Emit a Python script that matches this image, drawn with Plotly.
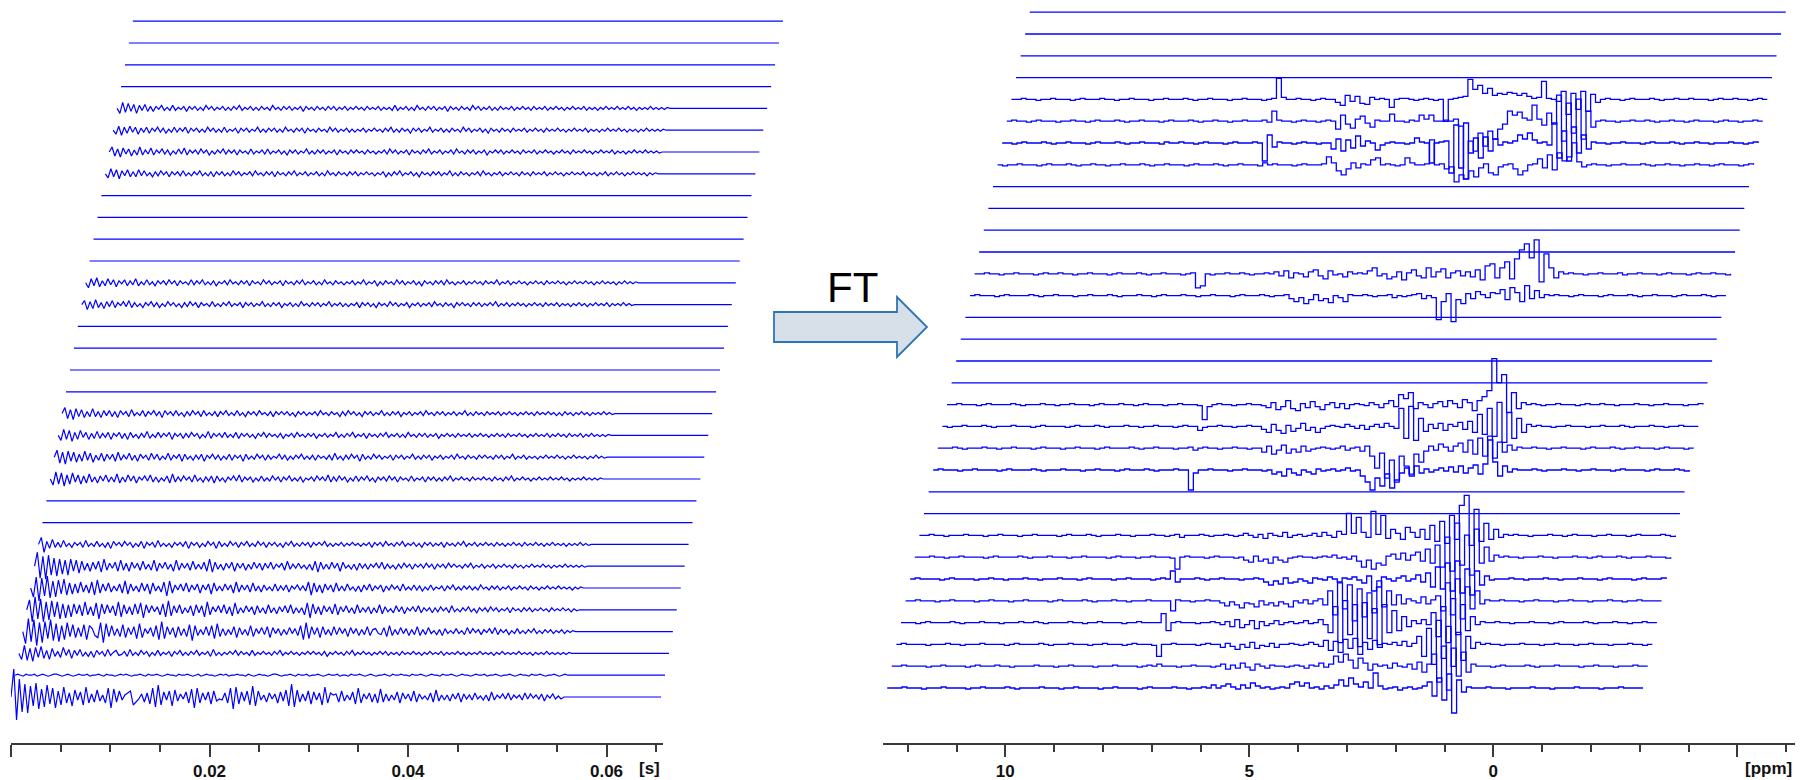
import numpy as np
import plotly.graph_objects as go

# ---------------- data ----------------
N_TRACES = 32
FID_END = 0.0557      # s, end of recorded signal
ACQ_END = 0.0655      # s, end of each time-domain row
PPM_START, PPM_END = 12.42, -3.07

FID_00 = [0,28,-23,18,-15,13,-16,11,-9,14,-12,8,-10,12,-7,9,-11,6,-8,10,
          -6,4,-9,7,-3,5,-8,10,-6,3,-5,7,-4,2,-6,9,-11,8,-5,6,
          -3,2,4,6,-8,-5,-2,3,-5,4,-7,9,-10,12,-8,5,-3,6,-9,7,
          -4,3,-2,5,-6,8,-11,9,-6,4,-3,5,-7,6,-4,-2,-3,4,-6,9,
          -12,10,-7,5,-4,6,-8,11,-9,6,-3,2,-5,4,-2,3,-6,5,-4,7,
          -9,13,-10,7,-5,3,-4,6,-7,5,-3,4,-8,10,-6,4,2,3,-5,6,
          -4,2,-3,5,-7,9,-6,3,-2,4,-5,3,-6,8,-5,3,-4,2,-3,5,
          -6,4,-2,3,-4,6,-5,3,-2,1,-3,4,-5,7,-4,2,-3,2,-4,3,
          -2,4,-5,3,-2,2,-3,4,-2,1,-3,2,-4,5,-3,2,-1,3,-2,4,
          -3,2,-1,2,-3,4,-2,3,-1,2,-2,3,-4,2,-1,3,-2,1,-2,0]
FID_01 = [0,1,0,-1,1,0,0,1,-1,0,1,0,-1,0,1,1,0,-1,0,1,
          0,-1,0,1,0,0,1,-1,0,0,1,0,-1,1,0,0,-1,0,1,0,
          1,0,-1,0,0,1,0,-1,1,0,0,1,0,-1,0,1,0,0,-1,1,
          0,0,1,0,-1,0,1,-1,0,1,0,0,-1,0,1,0,1,-1,0,0,
          1,0,0,-1,1,0,-1,0,1,0,0,-1,0,1,1,0,-1,0,0,1,
          0,-1,1,0,0,1,-1,0,0,1,0,-1,0,1,0,0,1,-1,0,0,
          -1,1,0,0,1,0,-1,0,1,0,-1,0,0,1,0,-1,1,0,0,1,
          0,0,-1,1,0,0,1,0,-1,0,1,0,0,-1,1,0,0,1,0,-1,
          0,1,0,0,-1,0,1,0,0,1,-1,0,0,1,0,-1,0,0,1,0,
          -1,0,1,0,0,-1,1,0,0,1,0,-1,0,0,1,0,-1,0,1,0]
FID_02 = [0,-6,8,-7,5,-8,6,-4,7,-5,3,-6,5,-3,2,-4,6,-2,4,-5,
          3,-2,4,-3,1,-3,2,-4,3,-1,2,-3,4,-2,1,3,-2,-1,2,-3,
          4,-2,1,-2,3,-1,2,-3,1,-2,3,-2,1,-1,2,-3,2,-1,3,-2,
          1,-2,2,-1,3,-2,1,-1,2,-3,4,-2,1,-2,1,-1,2,-1,3,-2,
          2,-1,1,-2,3,-2,1,-1,2,-1,1,-2,2,-1,3,-2,1,-1,2,-1,
          1,-2,1,-1,2,-1,2,-1,1,-2,2,-3,1,-1,2,-1,1,-2,2,-1,
          3,-2,1,-1,2,-1,1,-2,1,-1,2,-1,2,-2,1,-1,1,-2,2,-1,
          1,-1,2,-1,1,-2,1,-1,2,-1,1,-1,2,-2,1,-1,1,-1,2,-1,
          1,-2,1,-1,1,-1,2,-1,1,-1,1,-2,1,-1,2,-1,1,-1,1,-1,
          2,-1,1,-1,1,-2,1,-1,1,-1,2,-1,1,-1,1,-1,1,-1,1,0]
FID_03 = [0,-12,13,-10,12,-14,9,-11,10,-7,12,-9,8,-10,6,-8,9,-5,7,-6,
          4,-5,7,-8,6,3,-4,-6,9,-11,8,-5,6,-4,3,-5,7,-6,4,-3,
          5,-7,8,-6,3,-2,4,-5,6,-8,10,-7,5,-3,4,-6,5,-4,3,-5,
          7,-9,6,-4,2,-3,5,-4,6,-7,8,-5,3,-4,2,-3,5,-6,4,-3,
          2,-4,6,-5,3,-2,4,-3,5,-6,4,-2,3,-4,2,-3,4,-2,3,-4,
          6,-8,9,-7,5,-3,4,-6,5,-3,2,-4,5,-3,4,-2,3,-5,4,-2,
          3,-4,2,-3,5,-4,2,3,-2,-3,4,-5,6,-4,2,-3,4,-2,3,-4,
          2,-3,5,-4,2,-3,4,-2,1,-3,2,-4,3,-2,1,-2,3,-2,1,-3,
          4,-2,3,-1,2,-3,2,-1,3,-2,4,-3,2,-1,2,-3,1,-2,3,-2,
          1,-2,2,-1,3,-2,1,-2,2,-1,2,-2,1,-1,2,-2,1,-1,1,0]
FID_04 = [0,10,-12,13,-9,11,-12,8,-10,9,-7,8,-9,6,-8,5,-7,6,-4,5,
          -6,8,-5,3,-6,7,-9,6,-4,5,-3,4,-6,8,-7,5,-4,3,-5,6,
          -4,7,-8,5,-3,4,-2,3,-5,6,-7,9,-6,4,-3,5,-4,2,-3,4,
          -6,5,-3,4,-7,8,-5,3,-2,4,-3,5,-4,3,-6,7,-4,2,-3,4,
          -2,3,-5,4,-3,2,-4,5,-3,2,-4,3,-2,4,-3,5,-4,2,-3,2,
          -5,7,-8,6,-4,3,-5,4,-2,3,-4,6,-5,3,-2,4,-3,2,-4,5,
          -3,2,-2,3,-4,2,-3,5,-4,3,-2,1,-3,4,-2,3,-4,2,-1,3,
          -2,4,-3,2,-1,2,-3,2,-2,3,-1,2,-3,4,-2,1,-2,2,-1,3,
          -2,1,-3,2,-1,2,-2,3,-1,2,-2,1,-1,2,-3,2,-1,1,-2,2,
          -1,2,-2,1,-1,2,-1,1,-2,2,-1,1,-1,2,-1,1,-2,1,-1,0]
FID_05 = [0,-9,11,-13,10,-8,12,-10,7,-9,8,-6,9,-7,5,-6,4,-5,6,-4,
          3,-5,6,-7,8,-5,4,-3,5,-4,2,-3,4,-5,7,-6,4,-3,2,-4,
          5,-3,4,-6,5,-3,2,-4,6,-8,7,-5,3,-2,4,-3,5,-4,3,-2,
          4,-5,3,-2,4,-6,5,-3,2,-3,4,-2,3,-5,6,-4,3,-2,3,-4,
          5,-3,2,-4,3,-2,1,-3,4,-3,2,-2,3,-4,2,-1,3,-2,2,-3,
          6,-7,5,-4,3,-5,4,-2,3,-4,5,-3,2,-3,4,-2,1,-3,2,-4,
          3,-2,4,-3,2,-1,3,-4,2,-2,3,-1,2,-3,4,-2,1,-2,3,-2,
          2,-3,1,-2,3,-2,1,-1,2,-3,2,-1,3,-2,1,-2,2,-1,2,-2,
          1,-2,3,-1,1,-2,2,-1,2,-2,1,-1,2,-2,1,-1,2,-1,1,-2,
          2,-1,1,-2,1,-1,2,-1,1,-1,2,-1,1,-1,1,-2,1,-1,1,0]
FID_06 = [0,14,-12,10,-13,11,-9,8,-10,7,-8,6,-9,7,-5,6,-7,5,-4,3,
          -5,4,-3,5,-6,7,-4,3,-2,4,-5,6,-4,3,-5,4,-2,3,-4,5,
          -3,2,-4,6,-5,3,-2,4,-3,2,-5,6,-4,3,-2,3,-4,5,-3,2,
          -3,4,-5,7,-6,4,-3,2,-4,3,-2,4,-5,3,-2,3,-4,2,-3,4,
          -2,3,-4,3,-2,4,-3,2,-1,3,-4,5,-3,2,-2,3,-2,1,-3,2,
          -4,5,-6,4,-3,2,-3,4,-2,3,-5,4,-2,1,-3,2,-4,3,-2,2,
          -3,2,-1,3,-2,4,-3,2,-2,1,-3,2,-2,3,-1,2,-3,2,-1,2,
          -2,3,-1,2,-3,2,-1,2,-2,3,-1,2,-1,1,-2,2,-1,3,-2,1,
          -1,2,-2,1,-1,2,-2,1,-1,2,-1,1,-2,2,-1,1,-2,1,-1,2,
          -1,1,-1,2,-1,1,-2,1,-1,1,-1,2,-1,1,-1,1,-1,1,-1,0]
FID_07 = [0,7,-8,3,-4,5,-3,2,-3,4,-2,1,-3,2,-1,2,-3,4,-2,1,
          -2,3,-2,1,-3,2,-4,3,-1,2,-2,3,-1,2,-3,1,-2,3,-4,2,
          -1,2,-3,4,-2,1,-2,1,-3,2,-1,2,-2,3,-4,2,-1,2,-3,1,
          -2,3,-1,2,-4,3,-2,1,-2,3,-1,2,-3,2,-1,3,-2,1,-2,3,
          -1,2,-3,2,-1,2,-2,1,-3,2,-1,3,-2,1,-2,2,-1,2,-3,2,
          -1,2,-1,3,-2,1,-2,1,-1,2,-2,1,-1,2,-1,1,-2,1,-1,2,
          -3,2,-1,2,-2,3,-1,1,-2,2,-1,3,-2,1,-1,2,-2,1,-3,2,
          -1,2,-2,1,-1,2,-3,2,-1,1,-2,2,-1,3,-2,1,-1,2,-2,1,
          -1,2,-1,1,-2,2,-1,1,-2,1,-1,2,-1,1,-2,2,-1,1,-1,2,
          -1,1,-2,1,-1,2,-1,1,-1,1,-2,1,-1,1,-1,2,-1,1,-1,0]
FID_10 = [0,-6,7,-5,6,-7,4,-5,6,-3,4,-5,3,-4,5,-3,2,-4,3,-2,
          4,-3,2,-3,5,-4,2,-3,4,-2,3,-4,2,-1,3,-2,4,-3,2,-3,
          1,-2,3,-4,5,-3,2,-2,3,-1,2,-3,4,-2,1,-3,2,-2,3,-4,
          3,-2,1,-3,2,-1,3,-2,4,-3,2,-1,2,-3,1,-2,3,-2,1,-2,
          3,-1,2,-3,2,-1,3,-2,1,-2,2,-3,1,-1,2,-2,3,-1,2,-2,
          4,-3,2,-2,3,-1,2,-3,1,-2,3,-2,2,-1,3,-2,1,-3,2,-1,
          2,-2,3,-1,2,-3,2,-1,1,-2,3,-2,1,-1,2,-3,2,-1,2,-2,
          1,-2,2,-1,3,-2,1,-1,2,-1,1,-2,2,-1,1,-1,2,-1,1,-2,
          2,-1,1,-2,2,-1,3,-2,1,-1,2,-1,1,-2,1,-1,2,-1,1,-1,
          2,-1,1,-1,2,-1,1,-2,1,-1,1,-1,2,-1,1,-1,1,-1,1,0]
FID_11 = [0,7,-6,5,-7,6,-4,5,-5,3,-4,6,-3,4,-5,2,-3,4,-4,3,
          -2,3,-4,5,-3,2,-2,4,-3,2,-4,3,-1,2,-3,4,-2,3,-3,1,
          -2,4,-3,2,-1,3,-4,3,-2,1,-3,2,-2,3,-4,2,-1,3,-2,2,
          -3,1,-2,3,-3,2,-1,2,-4,3,-2,1,-2,3,-1,2,-3,2,-2,1,
          -1,3,-2,2,-3,1,-2,2,-1,3,-2,1,-2,2,-3,2,-1,1,-2,2,
          -3,4,-2,1,-3,2,-2,3,-1,2,-4,3,-2,1,-2,3,-1,2,-2,1,
          -1,2,-3,2,-1,2,-2,1,-1,3,-2,1,-2,2,-1,2,-3,1,-1,2,
          -2,1,-1,2,-2,3,-1,1,-2,2,-1,1,-2,2,-1,2,-1,1,-2,2,
          -1,2,-2,1,-1,3,-2,1,-1,2,-2,1,-1,1,-2,1,-1,2,-1,1,
          -1,2,-1,1,-2,1,-1,2,-1,1,-1,1,-2,1,-1,2,-1,1,-1,0]
FID_12 = [0,-5,6,-4,5,-6,3,-4,5,-2,3,-4,2,-3,4,-3,2,-2,3,-4,
          2,-1,3,-3,2,-4,3,-2,1,-3,2,-2,4,-3,1,-2,3,-2,2,-1,
          3,-4,2,-1,2,-3,2,-2,3,-1,2,-3,1,-2,4,-3,2,-1,2,-2,
          3,-2,1,-2,3,-3,2,-1,2,-2,1,-3,2,-1,3,-2,2,-1,1,-2,
          2,-3,1,-1,2,-2,3,-1,1,-2,2,-1,2,-3,1,-1,2,-2,1,-1,
          3,-2,1,-2,2,-1,3,-2,1,-1,2,-3,2,-1,1,-2,2,-1,3,-2,
          1,-1,2,-2,1,-2,3,-1,1,-2,2,-1,2,-2,1,-1,2,-3,1,-1,
          2,-1,1,-2,2,-1,1,-1,2,-2,1,-1,2,-1,1,-2,1,-1,2,-1,
          1,-2,2,-1,1,-1,2,-1,1,-2,1,-1,2,-1,1,-1,2,-2,1,-1,
          2,-1,1,-2,2,-1,1,-1,2,-2,1,-1,2,-1,1,-1,1,-1,1,0]
FID_13 = [0,6,-5,4,-6,5,-3,4,-4,2,-3,5,-3,2,-4,3,-2,3,-3,2,
          -4,3,-1,2,-3,4,-2,1,-2,3,-3,2,-1,3,-2,2,-4,3,-1,2,
          -2,3,-2,1,-3,2,-2,3,-1,2,-3,3,-2,1,-2,2,-3,2,-1,3,
          -2,1,-2,3,-2,1,-3,2,-1,2,-2,3,-1,1,-2,2,-3,2,-1,2,
          -1,2,-2,1,-3,2,-1,2,-2,1,-1,2,-2,3,-1,1,-2,2,-1,1,
          -3,2,-2,3,-1,2,-2,1,-3,2,-1,2,-2,1,-1,3,-2,1,-2,2,
          -1,2,-3,1,-1,2,-2,1,-1,2,-2,3,-1,1,-2,2,-1,2,-2,1,
          -1,2,-2,1,-1,3,-2,1,-2,2,-1,1,-2,2,-1,1,-1,2,-2,1,
          -1,2,-1,1,-2,1,-1,2,-1,1,-2,2,-1,1,-1,2,-1,1,-2,1,
          -2,2,-1,1,-2,1,-1,2,-1,1,-2,1,-1,1,-1,2,-1,1,-1,0]
FID_18 = [0,4,-5,3,-4,5,-3,2,-4,3,-2,4,-3,2,-1,3,-2,4,-3,2,
          -2,1,-3,2,-1,3,-2,2,-3,1,-2,3,-1,2,-2,1,-3,2,-2,3,
          -1,2,-3,2,-1,1,-2,3,-2,1,-2,2,-1,3,-2,1,-1,2,-3,2,
          -1,2,-2,1,-1,3,-2,1,-2,2,-1,2,-3,1,-1,2,-2,1,-2,3,
          -1,1,-2,2,-1,2,-2,1,-1,3,-2,1,-1,2,-2,1,-2,1,-1,2,
          -3,2,-1,2,-2,1,-3,2,-1,1,-2,3,-1,2,-2,1,-1,2,-3,1,
          -1,2,-2,1,-1,2,-2,3,-1,1,-2,2,-1,1,-3,2,-1,2,-1,1,
          -2,2,-1,2,-2,1,-1,2,-1,3,-2,1,-1,2,-2,1,-1,2,-1,1,
          -2,1,-1,2,-1,1,-2,2,-1,1,-1,2,-2,1,-1,1,-2,1,-1,2,
          -1,1,-2,1,-1,2,-1,1,-1,2,-2,1,-1,1,-1,2,-1,1,-1,0]
FID_19 = [0,-5,4,-3,5,-4,2,-3,4,-2,3,-4,2,-1,3,-3,2,-2,4,-3,
          1,-2,3,-2,1,-3,2,-1,2,-2,3,-1,2,-3,2,-1,1,-2,3,-2,
          2,-1,3,-2,1,-2,2,-3,1,-1,2,-2,3,-1,1,-2,2,-1,2,-3,
          2,-1,1,-2,3,-1,2,-2,1,-1,2,-3,2,-1,1,-2,2,-1,3,-2,
          1,-1,2,-2,1,-2,3,-1,1,-2,2,-1,1,-2,1,-1,2,-2,1,-1,
          3,-2,1,-1,2,-3,1,-2,2,-1,1,-2,3,-1,2,-2,1,-1,2,-2,
          1,-3,2,-1,1,-2,2,-1,2,-2,3,-1,1,-2,1,-1,2,-2,1,-1,
          2,-1,1,-2,2,-1,1,-1,3,-2,1,-1,2,-2,1,-1,2,-1,1,-2,
          1,-1,2,-1,1,-2,2,-1,1,-1,2,-1,1,-2,1,-1,2,-1,1,-1,
          2,-1,1,-2,1,-1,2,-1,1,-1,1,-2,1,-1,2,-1,1,-1,1,0]
FID_24 = [0,-4,5,-3,4,-5,3,-2,4,-3,2,-3,4,-2,3,-2,1,-3,2,-2,
          3,-1,2,-3,2,-1,2,-2,3,-2,1,-2,2,-1,3,-2,1,-2,2,-3,
          2,-1,2,-2,1,-2,3,-1,2,-2,1,-1,2,-2,3,-1,1,-2,2,-1,
          2,-3,2,-1,1,-2,2,-1,3,-2,1,-1,2,-2,1,-1,2,-2,1,-2,
          3,-1,1,-2,2,-1,1,-2,2,-1,2,-2,1,-1,2,-1,1,-2,1,-1,
          2,-3,1,-2,2,-1,3,-2,1,-1,2,-2,1,-3,2,-1,1,-2,2,-1,
          2,-2,1,-1,3,-2,1,-2,2,-1,1,-2,1,-1,2,-2,3,-1,1,-2,
          1,-1,2,-2,1,-1,2,-1,1,-2,2,-1,1,-2,2,-1,1,-1,2,-2,
          1,-1,2,-1,1,-2,1,-1,2,-1,1,-1,2,-2,1,-1,1,-2,1,-1,
          2,-2,1,-1,2,-1,1,-2,1,-1,2,-1,1,-1,1,-2,1,-1,1,0]
FID_25 = [0,5,-4,3,-5,4,-2,3,-4,2,-3,5,-3,2,-2,4,-3,2,-1,3,
          -2,2,-3,1,-2,3,-2,4,-3,2,-1,2,-2,3,-1,2,-3,1,-2,2,
          -1,3,-2,2,-1,2,-3,2,-1,1,-2,3,-2,1,-1,2,-2,3,-2,1,
          -1,2,-2,1,-3,2,-1,2,-2,1,-1,3,-2,1,-2,2,-1,2,-2,1,
          -1,2,-3,2,-1,1,-2,2,-1,2,-1,1,-2,2,-1,1,-2,1,-1,2,
          -2,3,-1,2,-2,1,-1,2,-3,2,-1,1,-2,2,-1,3,-2,1,-1,2,
          -2,1,-1,2,-2,3,-1,1,-2,2,-1,2,-2,1,-1,2,-3,1,-1,2,
          -1,2,-2,1,-1,2,-1,1,-2,2,-1,1,-1,2,-2,1,-1,2,-1,1,
          -2,1,-1,2,-1,1,-2,2,-1,1,-1,2,-1,1,-2,1,-1,2,-1,1,
          -1,2,-2,1,-1,1,-2,1,-1,2,-1,1,-1,2,-1,1,-1,1,-1,0]
FID_26 = [0,-4,4,-5,3,-3,4,-2,3,-4,2,-2,3,-3,2,-1,3,-2,2,-3,
          1,-2,3,-2,2,-1,3,-3,2,-1,2,-2,1,-2,3,-1,2,-2,1,-2,
          3,-2,1,-1,2,-3,2,-1,2,-2,1,-1,3,-2,1,-2,2,-1,2,-2,
          1,-2,3,-1,1,-2,2,-1,2,-3,2,-1,1,-2,2,-1,1,-2,3,-1,
          2,-2,1,-1,2,-2,1,-2,1,-1,2,-2,1,-1,2,-1,1,-2,2,-1,
          3,-2,1,-2,2,-1,1,-3,2,-1,2,-2,1,-1,3,-2,1,-1,2,-2,
          1,-2,2,-1,1,-2,3,-1,2,-2,1,-1,2,-2,1,-3,2,-1,1,-2,
          2,-1,1,-2,2,-1,1,-1,2,-2,1,-1,2,-1,1,-2,2,-1,1,-1,
          2,-1,1,-2,1,-1,2,-1,1,-1,2,-2,1,-1,1,-2,1,-1,2,-1,
          1,-1,2,-1,1,-2,1,-1,1,-2,1,-1,2,-1,1,-1,1,-1,1,0]
FID_27 = [0,-5,6,-4,5,-3,4,-5,3,-2,4,-3,2,-3,2,-1,3,-2,1,-2,
          3,-2,1,-1,2,-3,2,-1,2,-2,1,-2,3,-1,2,-2,1,-1,2,-2,
          1,-2,2,-1,3,-2,1,-1,2,-2,1,-2,2,-1,1,-2,3,-1,1,-2,
          2,-1,2,-2,1,-1,2,-3,2,-1,1,-2,2,-1,1,-2,2,-1,2,-2,
          1,-1,2,-2,1,-1,2,-1,1,-2,2,-1,1,-1,2,-2,1,-1,1,-2,
          3,-2,1,-1,2,-2,1,-2,3,-1,1,-2,2,-1,2,-2,1,-1,2,-3,
          2,-1,1,-2,2,-1,1,-2,3,-1,2,-2,1,-1,2,-2,1,-2,2,-1,
          1,-1,2,-2,1,-1,2,-1,1,-2,2,-1,1,-1,2,-2,1,-1,2,-1,
          1,-2,1,-1,2,-1,1,-1,2,-2,1,-1,1,-2,1,-1,2,-1,1,-1,
          2,-1,1,-1,2,-1,1,-2,1,-1,1,-1,2,-1,1,-1,1,-1,1,0]

SPEC_00 = [0,0,0,1,0,0,0,-1,0,0,0,1,0,0,0,0,-1,0,0,1,
           0,0,0,0,1,0,-1,0,0,0,0,1,0,0,0,-1,0,0,1,0,
           0,0,0,-1,0,0,1,0,0,0,0,-1,0,1,0,0,0,0,1,0,
           0,-1,0,0,1,0,3,0,2,4,1,-1,3,0,5,2,0,1,-1,0,
           1,0,4,6,2,5,0,1,-1,2,0,3,8,2,10,4,1,6,0,15,
           2,-1,0,1,-2,0,1,-1,0,2,6,-8,10,-12,14,-25,8,-4,1,0,
           0,0,1,0,0,0,-1,0,0,0,0,1,0,0,0,-1,0,0,0,0,
           1,0,0,0,0,-1,0,0,0,1,0,0,0,0,0]
SPEC_01 = [0,0,1,0,0,0,0,-1,0,0,1,0,0,0,0,-1,0,1,0,0,
           0,1,0,0,-1,0,0,0,0,1,0,0,0,-1,0,0,1,0,0,0,
           0,-1,0,0,0,1,0,0,0,0,-1,0,1,0,2,0,0,0,-1,0,
           0,1,0,0,0,-1,0,2,-3,1,-2,3,-1,-4,2,0,-2,1,0,0,
           -1,0,1,0,-2,1,0,3,-1,2,10,4,12,6,-2,8,3,-4,2,0,
           1,-2,3,0,-1,2,-3,4,-6,2,12,-16,20,-24,18,-10,14,-6,2,0,
           0,0,-1,0,1,0,0,0,0,1,0,-1,0,0,0,1,0,0,0,0,
           -1,0,0,1,0,0,0,-1,0,0,0,1,0,0,0]
SPEC_02 = [0,1,0,0,0,0,-1,0,0,0,1,0,0,-1,0,0,0,1,0,0,
           0,0,-1,0,1,0,0,0,0,1,0,-1,0,0,0,1,0,0,0,-1,
           0,0,1,0,0,0,-1,0,1,0,0,0,-1,-12,0,0,1,0,0,0,
           0,-1,0,1,0,0,-3,1,-2,-5,0,-3,2,-4,-1,-2,1,-3,0,0,
           1,0,-1,0,2,0,-2,4,-6,3,-8,5,-4,6,-10,2,-5,4,-3,1,
           0,2,-1,3,-2,1,8,-12,16,-20,24,-14,18,-22,12,-16,8,-4,2,0,
           1,0,0,-1,0,0,0,1,0,0,0,-1,0,0,1,0,0,0,-1,0,
           0,1,0,0,0,-1,0,0,0,1,0,0,-1,0,0]
SPEC_03 = [0,0,0,-1,0,1,0,0,0,0,1,0,-1,0,0,0,1,0,0,0,
           -1,0,0,0,1,0,0,1,0,-1,0,0,0,0,1,0,0,-1,0,0,
           1,0,0,0,0,-1,0,0,1,0,0,0,0,9,-8,0,1,0,0,0,
           -1,0,0,1,0,-2,1,-4,3,-5,-2,2,-6,1,-3,-1,2,-2,0,1,
           -1,0,2,-1,0,3,-2,-10,16,-20,22,-12,18,-24,20,-16,14,-22,18,-10,
           12,-8,6,-4,2,-1,3,-2,10,-14,16,-20,24,-12,18,-8,6,-2,1,0,
           0,1,0,0,-1,0,0,0,1,0,0,0,-1,0,1,0,0,0,0,1,
           0,-1,0,0,0,1,0,0,-1,0,0,1,0,0,0]
SPEC_04 = [0,0,1,0,0,0,-1,0,0,1,0,0,0,0,-1,0,0,1,0,0,
           0,-1,0,0,1,0,0,0,0,-1,0,1,0,0,0,0,1,0,-1,0,
           0,0,1,0,0,-1,0,0,0,1,0,0,0,0,-10,1,0,0,-1,0,
           0,1,0,0,-2,-5,-1,-4,-7,-2,-3,-6,0,-4,-2,-5,-1,-3,-6,0,
           -2,1,-3,0,2,-4,10,-14,18,-8,16,-20,12,-16,8,-12,20,-6,10,-4,
           6,-3,2,0,-2,4,-3,1,5,-10,18,-14,22,-18,14,-8,10,-3,1,0,
           0,1,0,0,0,-1,0,0,1,0,0,0,-1,0,0,1,0,0,0,-1,
           0,0,0,1,0,0,-1,0,0,1,0,0,0,0,0]
SPEC_05 = [0,1,0,0,0,0,-1,0,1,0,0,0,0,-1,0,0,1,0,0,-1,
           0,0,0,1,0,0,-1,0,0,0,1,0,0,0,-1,0,1,0,0,0,
           0,-1,0,0,1,0,0,0,0,-1,0,1,0,8,-3,0,0,0,1,0,
           -1,0,0,1,0,0,0,-1,0,0,1,0,-3,-6,-2,-5,1,-4,-3,0,
           -2,-4,1,0,-1,2,0,-3,1,0,2,-1,-4,3,-12,-8,2,0,-2,1,
           3,-2,0,4,-3,6,-8,12,-10,16,-12,18,-14,10,-16,8,-6,3,-1,0,
           0,0,1,0,0,-1,0,0,0,1,0,0,-1,0,0,0,1,0,0,0,
           -1,0,1,0,0,0,0,-1,0,1,0,0,0,1,0]
SPEC_06 = [0,0,0,1,0,0,-1,0,0,1,0,0,0,0,-1,0,1,0,0,0,
           0,1,0,-1,0,0,0,1,0,0,0,-1,0,0,1,0,0,0,0,-1,
           0,1,0,0,0,-1,0,0,1,0,0,0,-1,-12,0,1,0,0,0,-1,
           0,1,0,0,0,-1,0,-3,-5,1,-4,-2,-6,0,-3,-5,-1,0,1,0,
           0,-1,0,1,0,2,-1,0,-2,1,-4,-10,-3,-12,-6,-8,1,3,-2,4,
           -3,2,5,-4,8,-6,12,-10,20,-14,34,-8,22,-18,28,-6,10,-4,2,0,
           1,0,0,-1,0,0,0,1,0,0,-1,0,0,0,1,0,0,-1,0,1,
           0,0,0,1,0,-1,0,0,0,1,0,0,0,-1,0]
SPEC_07 = [0,0,1,0,0,-1,0,0,0,1,0,0,0,-1,0,0,1,0,0,0,
           -1,0,0,1,0,0,0,0,-1,0,1,0,0,0,1,0,-1,0,0,0,
           1,0,0,-1,0,0,0,1,0,0,-1,0,1,-2,0,0,0,1,0,-1,
           0,0,1,0,-1,0,2,0,-2,1,-3,2,0,-1,3,-2,0,1,-1,0,
           2,-1,3,0,-2,4,1,22,2,18,3,-2,24,1,20,-3,6,2,-4,8,
           3,-2,6,-4,10,-6,14,-8,20,-4,30,40,-10,26,-6,12,-4,6,-2,1,
           0,1,0,0,-1,0,0,0,1,0,0,-1,0,1,0,0,0,-1,0,0,
           1,0,0,0,-1,0,1,0,0,0,0,1,0,-1,0]
SPEC_10 = [0,1,0,0,0,-1,0,0,1,0,0,0,0,-1,0,1,0,0,0,0,
           1,0,-1,0,0,0,1,0,0,0,-1,0,0,1,0,0,0,-1,0,1,
           0,0,0,1,0,-1,0,0,0,1,0,0,-20,-3,0,0,1,0,0,0,
           -1,0,0,1,0,0,0,-1,0,-4,-2,-6,1,-3,-5,0,-2,-4,1,-1,
           0,1,-1,0,2,-1,0,-6,-12,-20,-8,-16,-4,-18,-10,-3,2,-6,4,-3,
           1,-2,0,2,-1,3,-2,4,-3,2,5,-4,6,30,8,-6,4,-2,1,0,
           0,0,1,0,-1,0,0,0,1,0,0,-1,0,0,1,0,0,0,-1,0,
           1,0,0,0,0,-1,0,1,0,0,0,1,0,-1,0]
SPEC_11 = [0,0,0,1,0,-1,0,0,0,1,0,0,-1,0,0,1,0,0,0,-1,
           0,1,0,0,0,-1,0,0,1,0,0,0,-1,0,1,0,0,0,0,1,
           0,-1,0,0,1,0,0,0,-1,0,0,1,-2,0,1,0,0,-1,0,0,
           1,0,0,-1,0,0,-4,2,-6,-2,3,-5,-1,-4,2,-3,-1,0,1,0,
           -1,0,2,-2,0,1,-3,2,-8,-20,-5,-30,-12,-34,-8,-18,-26,-6,-14,-3,
           2,-2,4,1,-3,2,5,-4,8,-6,10,-8,12,-10,6,-4,3,-2,1,0,
           0,1,0,0,-1,0,0,1,0,0,0,-1,0,1,0,0,0,1,0,-1,
           0,0,1,0,0,0,-1,0,1,0,0,0,-1,0,0]
SPEC_12 = [0,-1,0,0,1,0,0,0,1,0,-1,0,0,0,1,0,0,0,-1,0,
           1,0,0,0,0,-1,0,1,0,0,0,1,0,-1,0,0,0,1,0,0,
           -1,0,0,1,0,0,0,-1,0,1,0,0,-4,-1,0,0,1,0,0,-1,
           0,0,1,0,0,-3,-6,2,-4,-7,1,-5,-2,3,-4,-1,-6,-2,0,1,
           0,-1,2,0,-2,1,-3,0,2,-1,3,0,-2,18,-12,20,-14,8,-5,2,
           -2,3,-4,2,0,4,-3,5,-6,12,-8,18,-10,24,-16,14,-12,8,-6,2,
           0,1,0,0,-1,0,0,1,0,0,0,-1,0,0,1,0,0,0,1,0,
           -1,0,0,0,1,0,0,-1,0,0,1,0,0,0,0]
SPEC_13 = [0,0,1,0,0,0,-1,0,1,0,0,0,0,1,0,-1,0,0,0,1,
           0,0,-1,0,0,1,0,0,0,-1,0,1,0,0,0,1,0,0,-1,0,
           1,0,0,0,-1,0,0,1,0,0,0,-1,-15,-2,0,1,0,0,-1,0,
           0,1,0,0,-1,-3,2,-5,-2,4,-4,-6,1,-3,3,-2,-5,0,2,-3,
           1,-4,0,1,0,-1,2,0,-3,1,4,-2,10,6,12,-4,2,0,-3,1,
           3,-2,4,1,-3,5,2,-6,4,8,14,46,22,30,-8,12,-4,2,0,1,
           0,-1,0,0,1,0,0,0,-1,0,1,0,0,1,0,0,-1,0,0,0,
           1,0,0,-1,0,0,1,0,0,0,-1,0,0,1,0]
SPEC_18 = [0,1,0,0,0,-1,0,1,0,0,0,0,1,0,-1,0,0,1,0,0,
           0,-1,0,0,1,0,0,0,1,0,-1,0,0,0,1,0,0,-1,0,1,
           0,0,0,1,0,0,-1,0,0,1,0,0,0,-1,0,1,0,0,0,1,
           0,-1,0,0,1,-3,-6,-2,-8,-4,1,-5,-3,-7,0,-2,-6,1,0,0,
           1,0,-1,0,0,1,-2,0,-1,0,1,2,-3,0,-2,-24,-6,2,-26,-4,
           -8,2,-3,4,1,-2,3,2,6,-4,8,3,-6,10,-3,5,-2,1,0,1,
           0,0,-1,0,1,0,0,0,-1,0,1,0,0,0,1,0,-1,0,0,1,
           0,0,0,-1,0,1,0,0,0,1,0,-1,0,0,0]
SPEC_19 = [0,0,1,0,0,-1,0,0,1,0,0,0,-1,0,1,0,0,1,0,0,
           -1,0,0,1,0,0,0,-1,0,1,0,0,0,1,0,-1,0,0,1,0,
           0,0,-1,0,1,-14,-12,0,-1,0,0,1,0,0,1,0,-1,0,0,1,
           0,2,-2,3,-4,1,0,-3,2,4,-2,-5,3,-1,0,-3,2,0,1,0,
           3,6,-2,0,-5,-3,2,-6,1,4,-2,-4,6,-3,2,5,-4,1,3,-2,
           2,-3,4,-6,8,10,-4,6,12,-5,15,24,30,16,34,-8,20,6,-4,2,
           0,1,0,0,-1,0,0,1,0,0,0,1,-1,0,0,1,0,0,0,-1,
           0,1,0,0,0,-1,0,1,0,0,1,0,0,-1,0]
SPEC_24 = [0,-1,0,0,1,0,0,0,-1,0,1,0,0,0,1,0,-1,0,0,1,
           0,0,-1,0,0,1,0,0,0,1,0,-1,0,0,1,0,0,0,-1,0,
           1,0,0,0,1,0,-1,0,0,1,0,0,0,-1,2,0,1,0,0,0,
           -1,0,1,0,0,0,1,8,2,-6,-10,-4,2,-3,1,0,5,7,0,1,
           0,-1,0,7,2,0,0,1,25,0,1,-4,-2,-17,-10,-14,-6,-12,-3,1,
           -8,-10,-2,0,1,-4,-10,-6,0,1,6,-3,10,-5,12,4,8,22,3,-2,
           0,1,0,0,-1,0,0,1,0,0,0,1,0,-1,0,0,1,0,0,-1,
           0,0,1,0,0,-1,0,1,0,0,0,-1,0,1,0]
SPEC_25 = [0,0,-1,0,1,0,0,0,1,0,-1,0,0,1,0,0,0,-1,0,1,
           0,0,0,1,0,-1,0,0,1,0,0,0,-1,1,0,0,1,0,0,-1,
           0,1,0,0,0,-1,0,1,0,0,0,1,0,-18,8,-4,1,0,0,-1,
           0,1,0,0,-1,0,0,-6,4,-8,3,-5,7,-3,2,0,-7,-2,0,1,
           0,0,-1,0,5,1,0,-20,0,1,2,-30,18,-25,20,-10,5,-15,6,-8,
           4,-2,1,0,2,8,4,10,3,0,1,-2,20,-15,12,-18,16,-10,8,-6,
           1,0,0,-1,0,0,1,0,0,0,-1,0,1,0,0,0,1,0,-1,0,
           0,1,0,0,-1,0,0,0,1,0,0,-1,0,1,0]
SPEC_26 = [0,1,0,0,-1,0,1,0,0,0,-1,0,0,1,0,0,-1,0,1,0,
           0,0,1,0,-1,0,0,1,0,0,0,-1,0,1,0,0,0,1,0,-1,
           0,0,1,0,0,-1,0,0,1,0,0,0,1,-1,10,1,0,0,-1,0,
           1,0,0,-1,0,1,0,-8,6,-3,-7,2,5,-2,-6,1,0,0,7,0,
           0,-1,1,0,6,2,6,0,0,1,0,2,-5,-58,-20,-30,-12,-25,-10,-18,
           -8,-3,10,6,9,3,1,16,2,-4,8,-3,26,-20,18,-12,22,-18,10,-6,
           0,1,0,0,-1,0,0,1,0,0,1,0,-1,0,0,1,0,0,-1,0,
           1,0,0,0,-1,0,1,0,0,-1,0,0,1,0,0]
SPEC_27 = [0,0,1,0,0,-1,0,0,1,0,0,0,-1,0,1,0,0,0,1,0,
           0,-1,0,0,1,0,0,0,-1,0,0,1,0,0,0,1,0,-1,0,0,
           1,0,0,0,-1,0,0,1,0,0,0,-1,0,1,21,2,0,0,1,0,
           0,-1,0,1,0,0,-3,-6,4,-2,3,-4,-5,2,0,1,0,-8,0,1,
           1,0,-1,0,1,0,-1,0,-22,0,1,2,3,20,10,14,6,11,4,6,
           5,7,6,4,6,3,1,2,18,1,0,-2,8,-15,6,-10,8,-12,5,-3,
           0,1,0,0,-1,0,1,0,0,0,1,0,-1,0,0,1,0,0,1,0,
           0,0,-1,0,1,0,0,1,0,0,-1,0,1,0,0]

FID_ROWS = {0: FID_00, 1: FID_01, 2: FID_02, 3: FID_03, 4: FID_04, 5: FID_05,
            6: FID_06, 7: FID_07, 10: FID_10, 11: FID_11, 12: FID_12, 13: FID_13,
            18: FID_18, 19: FID_19, 24: FID_24, 25: FID_25, 26: FID_26, 27: FID_27}
SPEC_ROWS = {0: SPEC_00, 1: SPEC_01, 2: SPEC_02, 3: SPEC_03, 4: SPEC_04, 5: SPEC_05,
             6: SPEC_06, 7: SPEC_07, 10: SPEC_10, 11: SPEC_11, 12: SPEC_12, 13: SPEC_13,
             18: SPEC_18, 19: SPEC_19, 24: SPEC_24, 25: SPEC_25, 26: SPEC_26, 27: SPEC_27}

# ---------------- style / layout constants ----------------
W, H = 1805, 780
PLOT_BOTTOM = 743                  # px, position of the axes lines
ROW_GAP = 21.8                     # vertical stacking offset (y units = px)
LEFT_PX_PER_S = 198.5 / 0.02
RIGHT_PX_PER_PPM = 48.8
LEFT_SKEW = 3.93 / LEFT_PX_PER_S   # horizontal stacking offset, s per row
RIGHT_SKEW = 4.6 / RIGHT_PX_PER_PPM  # ppm per row
BLUE = "#0000ff"
AXC = "#3a3a3a"

L0 = 11                            # px of t = 0
L_AX_END = 663                     # px, end of the time axis
L_DATA_END = 800                   # px, extent of the (skewed) data area
R_AX0, R_AX1 = 883, 1795           # px extent of ppm axis
PPM0_PX = 1493.3                   # px of 0 ppm


def px_to_s(px):
    return (px - L0) / LEFT_PX_PER_S


def px_to_ppm(px):
    return (PPM0_PX - px) / RIGHT_PX_PER_PPM


fig = go.Figure()

# empty trace so that the time-axis subplot exists (drawn first, underneath)
fig.add_trace(go.Scatter(x=[None], y=[None], xaxis="x3", yaxis="y", showlegend=False,
                         hoverinfo="skip"))

for i in range(N_TRACES):
    if i in FID_ROWS:
        v = np.array(FID_ROWS[i], dtype=float)
        t = np.linspace(0.0, FID_END, len(v))
        t = np.append(t, ACQ_END)
        v = np.append(v, 0.0)
    else:
        t = np.array([0.0, ACQ_END])
        v = np.array([0.0, 0.0])
    fig.add_trace(go.Scatter(x=t + i * LEFT_SKEW, y=i * ROW_GAP + v, mode="lines",
                             line=dict(color=BLUE, width=1.2), xaxis="x", yaxis="y",
                             hoverinfo="skip", showlegend=False))

for i in range(N_TRACES):
    if i in SPEC_ROWS:
        v = np.array(SPEC_ROWS[i], dtype=float)
        p = np.linspace(PPM_START, PPM_END, len(v))
        shape = "hv"
    else:
        p = np.array([PPM_START, PPM_END])
        v = np.array([0.0, 0.0])
        shape = "linear"
    fig.add_trace(go.Scatter(x=p - i * RIGHT_SKEW, y=i * ROW_GAP + v, mode="lines",
                             line=dict(color=BLUE, width=1.3, shape=shape),
                             xaxis="x2", yaxis="y2", hoverinfo="skip", showlegend=False))

TICKFONT = dict(family="Liberation Sans, Arial, sans-serif", size=17, color="#111111",
                weight="bold")

left_major = [0.0, 0.02, 0.04, 0.06]
left_minor = [round(0.005 * k, 3) for k in range(1, 14) if k % 4 != 0]
right_major = [10, 5, 0, -5]
right_minor = [k for k in range(12, -7, -1) if k % 5 != 0]

common_axis = dict(showline=True, linecolor=AXC, linewidth=2, ticks="outside",
                   ticklen=12, tickwidth=1.5, tickcolor=AXC, showgrid=False,
                   zeroline=False, tickfont=TICKFONT, fixedrange=True)

fig.update_layout(
    width=W, height=H,
    margin=dict(l=0, r=0, t=0, b=H - PLOT_BOTTOM, pad=0),
    paper_bgcolor="white", plot_bgcolor="rgba(0,0,0,0)",
    showlegend=False, hovermode=False,
    xaxis=dict(domain=[L0 / W, L_DATA_END / W],
               range=[0, px_to_s(L_DATA_END)], visible=False, anchor="y"),
    xaxis3=dict(domain=[L0 / W, L_AX_END / W], range=[0, px_to_s(L_AX_END)],
                anchor="y", tickmode="array", tickvals=left_major,
                ticktext=["", "0.02", "0.04", "0.06"],
                minor=dict(tickmode="array", tickvals=left_minor, ticklen=7,
                           tickwidth=1.5, tickcolor=AXC, ticks="outside"),
                **common_axis),
    yaxis=dict(domain=[0, 1], range=[-(PLOT_BOTTOM - 697), 697], visible=False,
               anchor="x", fixedrange=True),
    xaxis2=dict(domain=[R_AX0 / W, R_AX1 / W],
                range=[px_to_ppm(R_AX0), px_to_ppm(R_AX1)], anchor="y2",
                tickmode="array", tickvals=right_major, ticktext=["10", "5", "0", ""],
                minor=dict(tickmode="array", tickvals=right_minor, ticklen=7,
                           tickwidth=1.5, tickcolor=AXC, ticks="outside"),
                **common_axis),
    yaxis2=dict(domain=[0, 1], range=[-(PLOT_BOTTOM - 688), 688], visible=False,
                anchor="x2", fixedrange=True),
)


def pyp(py):
    """pixel row -> paper y"""
    return (PLOT_BOTTOM - py) / PLOT_BOTTOM


def pxp(px):
    return px / W


fig.add_annotation(x=pxp(649), y=pyp(768), xref="paper", yref="paper", text="[s]",
                   showarrow=False, font=TICKFONT, xanchor="center", yanchor="middle")
fig.add_annotation(x=pxp(1768), y=pyp(768), xref="paper", yref="paper", text="[ppm]",
                   showarrow=False, font=TICKFONT, xanchor="center", yanchor="middle")

# FT arrow
arrow_px = [(774, 312), (897, 312), (897, 297), (927, 327), (897, 357), (897, 342), (774, 342)]
path = "M " + " L ".join(f"{pxp(x):.5f},{pyp(y):.5f}" for x, y in arrow_px) + " Z"
fig.add_shape(type="path", path=path, xref="paper", yref="paper",
              fillcolor="#d7dfe8", line=dict(color="#2e75b6", width=1.8), layer="above")
fig.add_annotation(x=pxp(852), y=pyp(288), xref="paper", yref="paper", text="FT",
                   showarrow=False, xanchor="center", yanchor="middle",
                   font=dict(family="Liberation Sans, Arial, sans-serif", size=42,
                             color="#000000"))

fig.write_html("out.html", config={"displayModeBar": False})
